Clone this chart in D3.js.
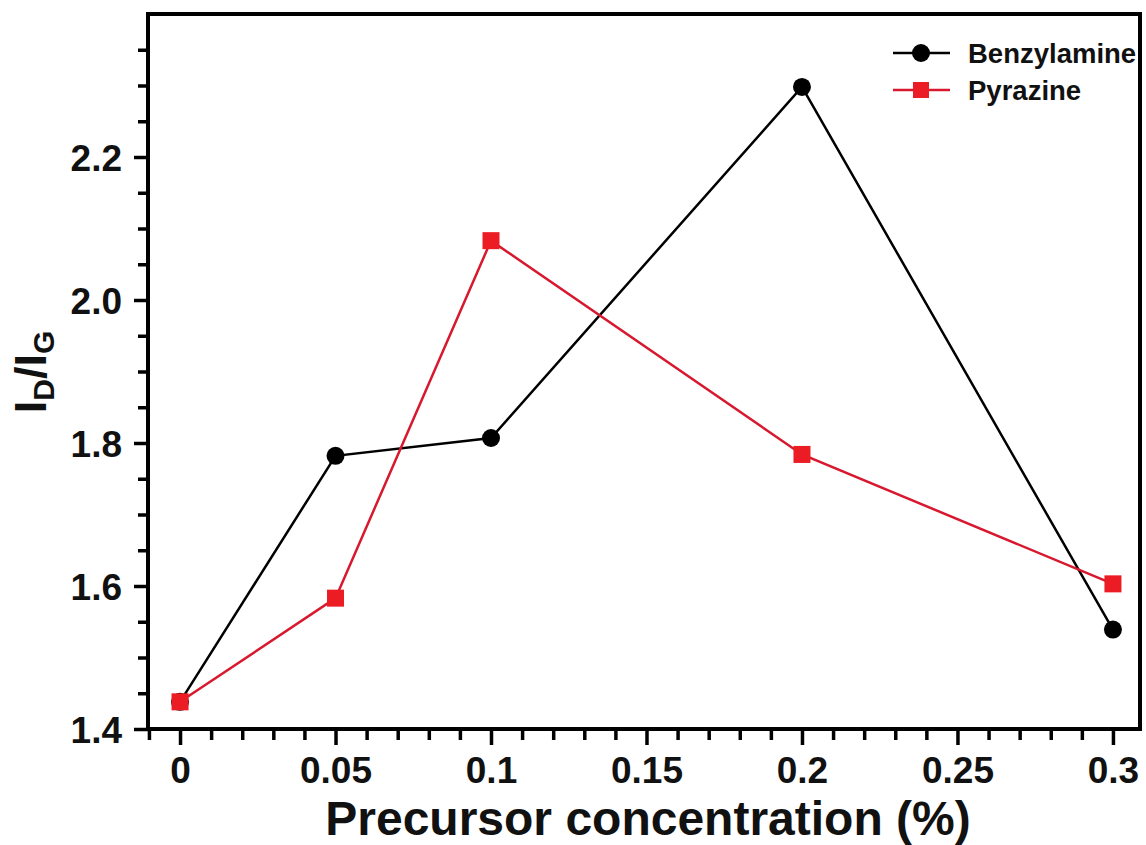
<!DOCTYPE html>
<html>
<head>
<meta charset="utf-8">
<script src="https://cdn.jsdelivr.net/npm/d3@7"></script>
<style>
  body { margin: 0; background: #fff; }
  svg { display: block; }
  text { font-family: Arial, "Liberation Sans", sans-serif; font-weight: bold; }
</style>
</head>
<body>
<svg id="chart" width="1146" height="845"></svg>
<script>
// data
var concentrations = [0, 0.05, 0.1, 0.2, 0.3];
var benzylamine = [1.438, 1.782, 1.807, 2.298, 1.539];
var pyrazine = [1.438, 1.583, 2.083, 1.784, 1.603];
var seriesNames = ['Benzylamine', 'Pyrazine'];
var xTickLabels = ['0', '0.05', '0.1', '0.15', '0.2', '0.25', '0.3'];
var xTicks = [0, 0.05, 0.1, 0.15, 0.2, 0.25, 0.3];
var yTicks = [1.4, 1.6, 1.8, 2.0, 2.2];

var svg = d3.select('#chart');
var frame = { left: 148, right: 1140, top: 14, bottom: 729 };
var red = '#ec1c24';

var x_scale = d3.scaleLinear()
    .domain([-0.0103, 0.3087])
    .range([frame.left, frame.right]);
var y_scale = d3.scaleLinear()
    .domain([1.4, 2.4])
    .range([frame.bottom, frame.top]);

// minor ticks (every 0.01 on x, 0.05 on y)
var xMinor = d3.range(-1, 31).map(function(i){ return i / 100; })
    .filter(function(v){ return Math.round(v * 100) % 5 != 0; });
var yMinor = d3.range(28, 48).map(function(i){ return i / 20; })
    .filter(function(v){ return Math.round(v * 20) % 4 != 0; });

var xMinorAxis = svg.append('g')
    .attr('transform', 'translate(0,' + frame.bottom + ')')
    .call(d3.axisBottom(x_scale).tickValues(xMinor).tickSize(11).tickFormat(''));
var xAxis_g = svg.append('g')
    .attr('transform', 'translate(0,' + frame.bottom + ')')
    .call(d3.axisBottom(x_scale).tickValues(xTicks).tickSize(16)
        .tickFormat(function(d, i){ return xTickLabels[i]; }));

var yMinorAxis = svg.append('g')
    .attr('transform', 'translate(' + frame.left + ',0)')
    .call(d3.axisLeft(y_scale).tickValues(yMinor).tickSize(10).tickFormat(''));
var yAxis_g = svg.append('g')
    .attr('transform', 'translate(' + frame.left + ',0)')
    .call(d3.axisLeft(y_scale).tickValues(yTicks).tickSize(14).tickPadding(12)
        .tickFormat(d3.format('.1f')));

svg.selectAll('.domain').remove();
svg.selectAll('.tick line').attr('stroke', '#000').attr('stroke-width', 3.5);
svg.selectAll('.tick text')
    .attr('font-family', 'Arial, "Liberation Sans", sans-serif')
    .attr('font-weight', 'bold')
    .attr('font-size', 37)
    .attr('fill', '#111');
xAxis_g.selectAll('.tick text').attr('y', 54).attr('dy', 0);
yAxis_g.selectAll('.tick text').attr('dy', '0.36em');

// frame
svg.append('rect')
    .attr('x', frame.left)
    .attr('y', frame.top)
    .attr('width', frame.right - frame.left)
    .attr('height', frame.bottom - frame.top)
    .attr('fill', 'none')
    .attr('stroke', '#000')
    .attr('stroke-width', 4);

var line = d3.line()
    .x(function(d){ return x_scale(d[0]); })
    .y(function(d){ return y_scale(d[1]); });

var benzData = concentrations.map(function(c, i){ return [c, benzylamine[i]]; });
var pyrData = concentrations.map(function(c, i){ return [c, pyrazine[i]]; });

svg.append('path')
    .attr('d', line(benzData))
    .attr('fill', 'none')
    .attr('stroke', '#000')
    .attr('stroke-width', 2.5);
svg.selectAll('.benz')
    .data(benzData)
    .enter().append('circle')
    .attr('class', 'benz')
    .attr('cx', function(d){ return x_scale(d[0]); })
    .attr('cy', function(d){ return y_scale(d[1]); })
    .attr('r', 9)
    .attr('fill', '#000');

svg.append('path')
    .attr('d', line(pyrData))
    .attr('fill', 'none')
    .attr('stroke', '#d8182e')
    .attr('stroke-width', 2.5);
svg.selectAll('.pyr')
    .data(pyrData)
    .enter().append('rect')
    .attr('class', 'pyr')
    .attr('x', function(d){ return x_scale(d[0]) - 8.5; })
    .attr('y', function(d){ return y_scale(d[1]) - 8.5; })
    .attr('width', 17)
    .attr('height', 17)
    .attr('fill', red);

// legend
var legend = svg.append('g').attr('transform', 'translate(893,53)');
legend.append('line').attr('x1', 0).attr('x2', 57).attr('y1', 0).attr('y2', 0)
    .attr('stroke', '#000').attr('stroke-width', 2.5);
legend.append('circle').attr('cx', 28).attr('cy', 0).attr('r', 9).attr('fill', '#000');
legend.append('line').attr('x1', 0).attr('x2', 57).attr('y1', 37).attr('y2', 37)
    .attr('stroke', '#d8182e').attr('stroke-width', 2.5);
legend.append('rect').attr('x', 20).attr('y', 29).attr('width', 16).attr('height', 16).attr('fill', red);
legend.selectAll('.leg-text')
    .data(seriesNames)
    .enter().append('text')
    .attr('class', 'leg-text')
    .attr('x', 75)
    .attr('y', function(d, i){ return i * 37 + 10; })
    .attr('font-size', 27.5)
    .attr('fill', '#111')
    .text(function(d){ return d; });

// axis titles
svg.append('text')
    .attr('x', 648)
    .attr('y', 835)
    .attr('text-anchor', 'middle')
    .attr('font-size', 48)
    .attr('fill', '#111')
    .text('Precursor concentration (%)');

var yLabel = svg.append('text')
    .attr('transform', 'translate(46,372) rotate(-90)')
    .attr('text-anchor', 'middle')
    .attr('font-size', 45)
    .attr('fill', '#111');
yLabel.append('tspan').text('I');
yLabel.append('tspan').attr('font-size', 30).attr('dy', 8).text('D');
yLabel.append('tspan').attr('dy', -8).text('/I');
yLabel.append('tspan').attr('font-size', 30).attr('dy', 8).text('G');
</script>
</body>
</html>
